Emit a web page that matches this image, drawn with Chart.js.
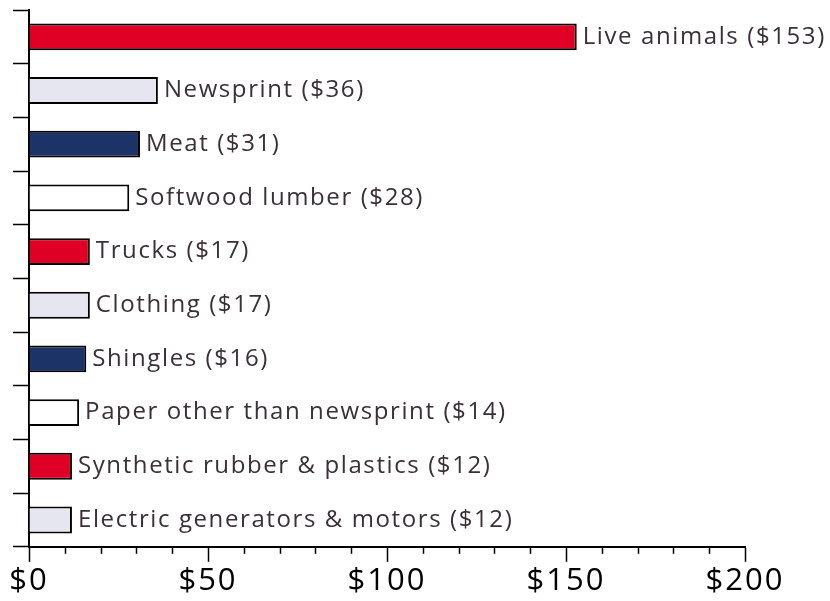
<!DOCTYPE html>
<html>
<head>
<meta charset="utf-8">
<script src="https://cdn.jsdelivr.net/npm/chart.js@4"></script>
<style>
  html, body { margin: 0; padding: 0; background: #fff; }
  #wrap { width: 830px; height: 601px; }
</style>
</head>
<body>
<div id="wrap"><canvas id="bar_chart" width="830" height="601"></canvas></div>
<script>
// chart values
var categories = ['Live animals', 'Newsprint', 'Meat', 'Softwood lumber', 'Trucks',
  'Clothing', 'Shingles', 'Paper other than newsprint', 'Synthetic rubber & plastics',
  'Electric generators & motors'];
var values = [153, 36, 31, 28, 17, 17, 16, 14, 12, 12];
var tickLabels = ['$0', '$50', '$100', '$150', '$200'];

var palette = ['#E00025', '#E6E6F0', '#1B3366', '#FFFFFF'];
var barColors = values.map(function (v, i) { return palette[i % 4]; });

var labelFont = '24px "Open Sans"';

// a bit of letter spacing on all text, the original font runs wider
var spacing = {
  id: 'spacing',
  beforeDraw: function (chart) { chart.ctx.letterSpacing = '2px'; },
  afterDraw: function (chart) { chart.ctx.letterSpacing = '0px'; }
};

// labels next to each bar
var barLabels = {
  id: 'barLabels',
  afterDatasetsDraw: function (chart) {
    var ctx = chart.ctx;
    var meta = chart.getDatasetMeta(0);
    ctx.save();
    ctx.font = labelFont;
    ctx.letterSpacing = '1.6px';
    ctx.fillStyle = '#3B2F38';
    ctx.textAlign = 'left';
    ctx.textBaseline = 'middle';
    meta.data.forEach(function (bar, i) {
      ctx.fillText(categories[i] + ' ($' + values[i] + ')', bar.x + 6, bar.y);
    });
    ctx.restore();
  }
};

// minor ticks every 10 on the x axis
var minorTicks = {
  id: 'minorTicks',
  afterDraw: function (chart) {
    var ctx = chart.ctx;
    var x = chart.scales.x;
    var y0 = chart.chartArea.bottom;
    ctx.save();
    ctx.strokeStyle = '#000';
    ctx.lineWidth = 1.5;
    for (var v = 10; v < 200; v += 10) {
      if (v % 50 === 0) continue;
      var px = Math.round(x.getPixelForValue(v)) + 0.5;
      ctx.beginPath();
      ctx.moveTo(px, y0);
      ctx.lineTo(px, y0 + 7);
      ctx.stroke();
    }
    ctx.restore();
  }
};

new Chart('bar_chart', {
  type: 'bar',
  data: {
    labels: categories,
    datasets: [{
      data: values,
      backgroundColor: barColors,
      borderColor: '#000',
      borderWidth: 2,
      barPercentage: 0.5,
      categoryPercentage: 1.0
    }]
  },
  options: {
    indexAxis: 'y',
    responsive: false,
    animation: false,
    layout: { padding: { top: 10, left: 13, right: 85, bottom: 0 } },
    plugins: {
      legend: { display: false },
      tooltip: { enabled: false }
    },
    scales: {
      x: {
        min: 0,
        max: 200,
        ticks: {
          stepSize: 50,
          color: '#000',
          padding: 1,
          font: { family: 'Open Sans', size: 31 },
          callback: function (val, i) { return tickLabels[i]; }
        },
        grid: { drawOnChartArea: false, tickLength: 15, tickColor: '#000', tickWidth: 1.5 },
        border: { color: '#000', width: 2 }
      },
      y: {
        ticks: { display: false },
        grid: { drawOnChartArea: false, tickLength: 16, tickColor: '#000', tickWidth: 1.5, offset: true },
        border: { color: '#000', width: 2 }
      }
    }
  },
  plugins: [spacing, barLabels, minorTicks]
});
</script>
</body>
</html>
